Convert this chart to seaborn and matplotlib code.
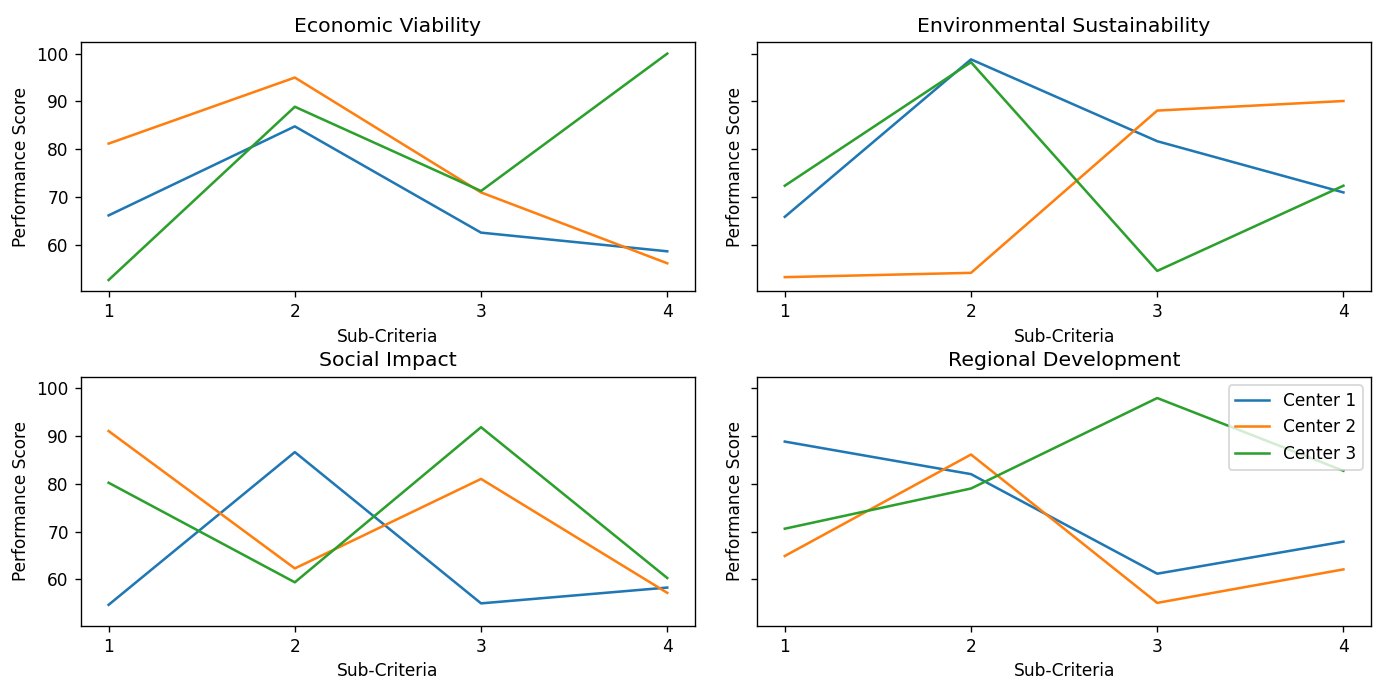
import pandas as pd
import numpy as np
import seaborn as sns
from matplotlib import pyplot as plt

sub_criteria = [1, 2, 3, 4]
centers = ["Center 1", "Center 2", "Center 3"]
criteria = ["Economic Viability", "Environmental Sustainability",
            "Social Impact", "Regional Development"]

# scores per criterion, one list per center
economic = [[66.2, 84.8, 62.6, 58.7],
            [81.2, 95.0, 71.0, 56.2],
            [52.7, 88.9, 71.3, 100.0]]
environmental = [[65.9, 98.8, 81.7, 71.0],
                 [53.3, 54.2, 88.1, 90.1],
                 [72.4, 98.2, 54.6, 72.4]]
social = [[54.7, 86.6, 55.0, 58.3],
          [91.0, 62.3, 81.0, 57.2],
          [80.2, 59.4, 91.8, 60.3]]
regional = [[88.8, 82.0, 61.2, 67.9],
            [64.9, 86.1, 55.1, 62.1],
            [70.6, 79.0, 97.9, 82.7]]


def to_long(name, scores):
    rows = []
    for center, vals in zip(centers, scores):
        for sc, v in zip(sub_criteria, vals):
            rows.append({"Criterion": name, "Center": center,
                         "Sub-Criteria": sc, "Performance Score": v})
    return rows


records = []
for name, scores in zip(criteria, [economic, environmental, social, regional]):
    records += to_long(name, scores)
df = pd.DataFrame(records)

dpi = 122
fig, axes = plt.subplots(2, 2, figsize=(1377 / dpi, 679 / dpi), dpi=dpi, sharey=True)

for i, (ax, name) in enumerate(zip(axes.flat, criteria)):
    last = i == len(criteria) - 1
    sns.lineplot(data=df[df["Criterion"] == name], x="Sub-Criteria",
                 y="Performance Score", hue="Center", ax=ax, legend=last)
    ax.set_title(name)
    ax.set_xticks(sub_criteria)
    ax.set_ylabel("Performance Score")
    ax.yaxis.label.set_visible(True)
    if last:
        sns.move_legend(ax, "upper right", title=None)

fig.subplots_adjust(left=0.0586, right=0.9959, top=0.9377, bottom=0.0785,
                    wspace=0.1004, hspace=0.3426)
plt.savefig("out.png")
